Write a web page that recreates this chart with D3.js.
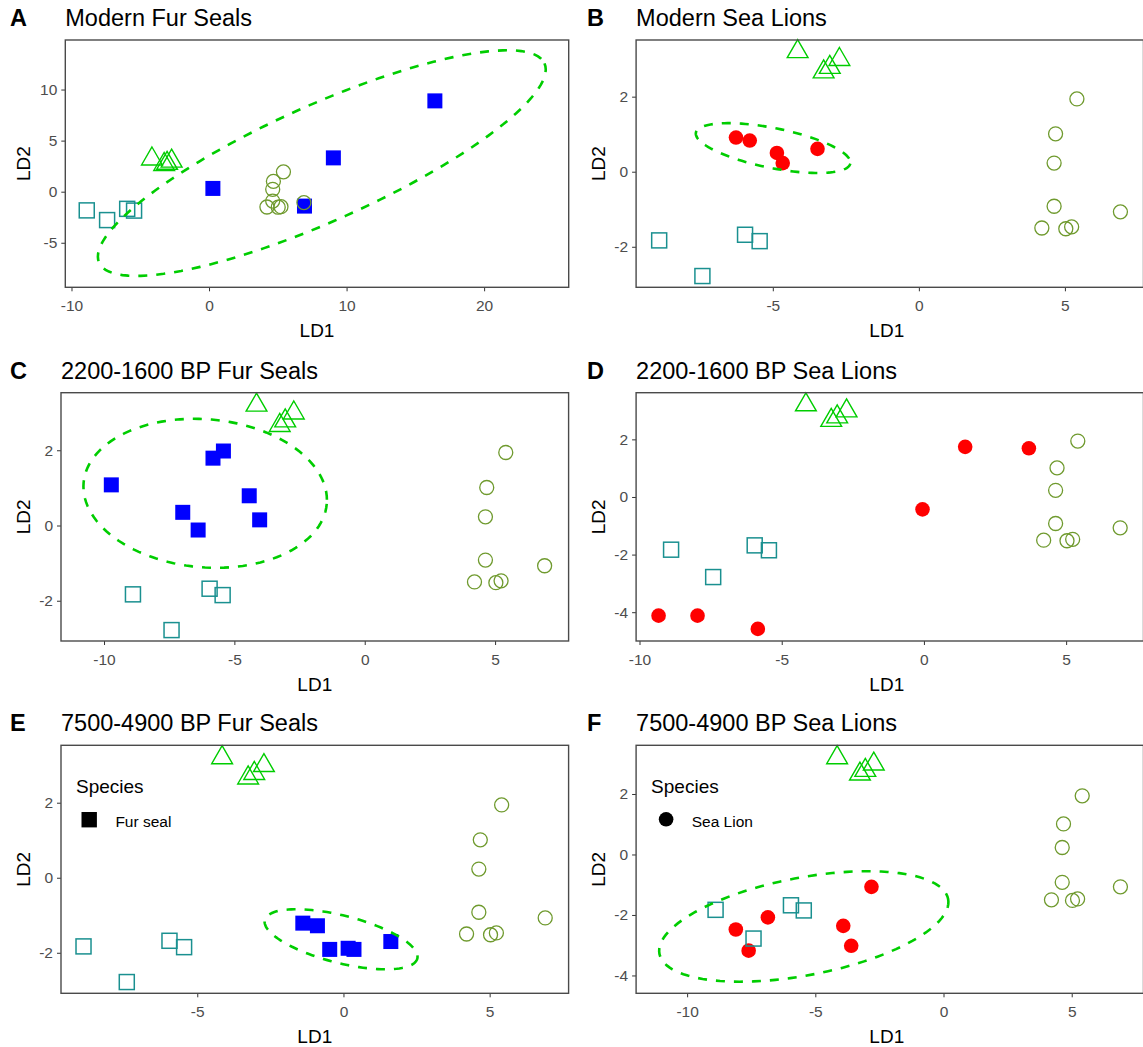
<!DOCTYPE html>
<html>
<head>
<meta charset="utf-8">
<script src="https://cdn.jsdelivr.net/npm/d3@7"></script>
<style>
  html, body { margin:0; padding:0; background:#fff; }
  svg text { font-family: "Liberation Sans", Arial, sans-serif; }
</style>
</head>
<body>
<svg id="fig" width="1143" height="1047"></svg>
<script>
// reference groups (same in every panel)
const refSqLD1 = [-8.89, -7.41, -5.95, -5.45];
const refSqLD2 = [-1.83, -2.78, -1.68, -1.85];
const refTriLD1 = [-4.15, -2.72, -3.05, -3.26];
const refTriLD2 = [3.20, 2.99, 2.78, 2.66];
const refCircLD1 = [5.41, 4.68, 4.63, 4.63, 4.21, 5.03, 5.23, 6.90];
const refCircLD2 = [1.94, 1.01, 0.23, -0.92, -1.50, -1.52, -1.47, -1.07];

// focal groups
const modernFurLD1 = [0.28, 6.94, 9.04, 16.42];
const modernFurLD2 = [0.32, -1.41, 3.31, 8.89];
const modernLionLD1 = [-6.26, -5.79, -4.86, -4.66, -3.47];
const modernLionLD2 = [0.91, 0.83, 0.50, 0.23, 0.61];
const midFurLD1 = [-9.72, -5.82, -5.42, -4.43, -4.03, -6.98, -6.39];
const midFurLD2 = [1.08, 1.79, 1.98, 0.79, 0.15, 0.35, -0.12];
const midLionLD1 = [-9.33, -7.96, -5.84, -0.05, 1.45, 3.69];
const midLionLD2 = [-4.12, -4.12, -4.58, -0.43, 1.74, 1.69];
const earlyFurLD1 = [-1.39, -0.89, -0.47, 0.16, 0.36, 1.62];
const earlyFurLD2 = [-1.21, -1.28, -1.91, -1.88, -1.91, -1.70];
const earlyLionLD1 = [-8.10, -7.60, -6.85, -3.91, -3.60, -2.81];
const earlyLionLD2 = [-2.48, -3.18, -2.08, -2.36, -3.02, -1.07];

// 95% ellipses: centre, first and second half-axis vectors (LD units)
const ellA = [8.20, 2.80, 16.19, 9.76, 1.725, -5.17];
const ellB = [-4.99, 0.63, 2.643, -0.412, -0.135, -0.521];
const ellC = [-6.12, 0.856, 4.663, -0.282, -0.2475, -1.960];
const ellE = [-0.082, -1.64, 2.608, -0.515, -0.199, -0.613];
const ellF = [-5.45, -2.38, 5.629, 0.908, 0.358, -1.585];

const tags = ['A','B','C','D','E','F'];
const titles = ['Modern Fur Seals','Modern Sea Lions','2200-1600 BP Fur Seals',
  '2200-1600 BP Sea Lions','7500-4900 BP Fur Seals','7500-4900 BP Sea Lions'];
const xDomains = [[-10.45,26.15],[-9.68,7.69],[-11.65,7.82],[-10.12,7.72],[-9.66,7.70],[-11.99,7.80]];
const yDomains = [[-9.36,14.85],[-3.08,3.51],[-3.07,3.53],[-5.0,3.62],[-3.08,3.53],[-4.59,3.61]];
const xTicks = [[-10,0,10,20],[-5,0,5],[-10,-5,0,5],[-10,-5,0,5],[-5,0,5],[-10,-5,0,5]];
const yTicks = [[-5,0,5,10],[-2,0,2],[-2,0,2],[-4,-2,0,2],[-2,0,2],[-4,-2,0,2]];
const focalLD1 = [modernFurLD1, modernLionLD1, midFurLD1, midLionLD1, earlyFurLD1, earlyLionLD1];
const focalLD2 = [modernFurLD2, modernLionLD2, midFurLD2, midLionLD2, earlyFurLD2, earlyLionLD2];
const ellipses = [ellA, ellB, ellC, null, ellE, ellF];
const legendLabels = [null, null, null, null, 'Fur seal', 'Sea Lion'];

const svg = d3.select('#fig');
const boxes = [
  {x0:65.3, x1:568.7, y0:40, y1:287.3},
  {x0:636.1, x1:1143.5, y0:40, y1:287.3},
  {x0:61, x1:568.6, y0:392.7, y1:641},
  {x0:636.1, x1:1143.5, y0:392.7, y1:641},
  {x0:61, x1:568.6, y0:745.3, y1:993.3},
  {x0:636.1, x1:1143.5, y0:745.3, y1:993.3}
];

const GREEN = '#00cd00', TEAL = '#1a9090', OLIVE = '#6f9a2e';

function zip(a,b){ return a.map((v,i)=>[v,b[i]]); }

function triPath(r){
  const h = r*Math.sqrt(3)/2;
  return `M0,${-r}L${h},${r/2}L${-h},${r/2}Z`;
}

boxes.forEach((b,i)=>{
  const fur = i%2===0;
  const left = i%2===0;
  const x = d3.scaleLinear().domain(xDomains[i]).range([b.x0,b.x1]);
  const y = d3.scaleLinear().domain(yDomains[i]).range([b.y1,b.y0]);
  const g = svg.append('g');

  // title + tag
  g.append('text').attr('x', left?10:587).attr('y', b.y0-14)
    .style('font-size','23.5px').style('font-weight','bold').text(tags[i]);
  g.append('text').attr('x', b.x0).attr('y', b.y0-14)
    .style('font-size','23.5px').text(titles[i]);

  // axes
  const xa = g.append('g').attr('transform',`translate(0,${b.y1})`)
    .call(d3.axisBottom(x).tickValues(xTicks[i]).tickSize(4).tickPadding(4).tickFormat(d3.format('d')));
  const ya = g.append('g').attr('transform',`translate(${b.x0},0)`)
    .call(d3.axisLeft(y).tickValues(yTicks[i]).tickSize(4).tickPadding(4).tickFormat(d3.format('d')));
  [xa,ya].forEach(a=>{
    a.select('.domain').remove();
    a.selectAll('line').attr('stroke','#333');
    a.selectAll('text').attr('fill','#4d4d4d').style('font-size','15.5px')
      .style('font-family','"Liberation Sans", Arial, sans-serif');
  });
  xa.selectAll('text').attr('dy','1em');
  ya.selectAll('text').text(d=>d<0 ? '-'+Math.abs(d) : d);
  xa.selectAll('text').text(d=>d<0 ? '-'+Math.abs(d) : d);

  g.append('text').attr('x',(b.x0+b.x1)/2 - (left?0:3)).attr('y', b.y1+49.5)
    .attr('text-anchor','middle').style('font-size','19px').text('LD1');
  g.append('text').attr('transform',`translate(${left?30:605},${(b.y0+b.y1)/2}) rotate(-90)`)
    .attr('text-anchor','middle').style('font-size','19px').text('LD2');

  const clipId = 'clip'+i;
  svg.append('clipPath').attr('id',clipId).append('rect')
    .attr('x',b.x0).attr('y',b.y0-12).attr('width',b.x1-b.x0).attr('height',b.y1-b.y0+12);
  const plot = g.append('g').attr('clip-path',`url(#${clipId})`);

  // focal group
  const pts = zip(focalLD1[i], focalLD2[i]);
  if(fur){
    plot.selectAll('rect.focal').data(pts).enter().append('rect')
      .attr('class','focal')
      .attr('x',d=>x(d[0])-7.5).attr('y',d=>y(d[1])-7.5)
      .attr('width',15).attr('height',15).attr('fill','#0000ff');
  }else{
    plot.selectAll('circle.focal').data(pts).enter().append('circle')
      .attr('class','focal')
      .attr('cx',d=>x(d[0])).attr('cy',d=>y(d[1])).attr('r',7.3).attr('fill','#ff0000');
  }

  // reference groups
  plot.selectAll('rect.ref').data(zip(refSqLD1,refSqLD2)).enter().append('rect')
    .attr('class','ref')
    .attr('x',d=>x(d[0])-7.5).attr('y',d=>y(d[1])-7.5)
    .attr('width',15).attr('height',15)
    .attr('fill','none').attr('stroke',TEAL).attr('stroke-width',1.5);
  plot.selectAll('path.tri').data(zip(refTriLD1,refTriLD2)).enter().append('path')
    .attr('class','tri')
    .attr('transform',d=>`translate(${x(d[0])},${y(d[1])})`)
    .attr('d',triPath(12))
    .attr('fill','none').attr('stroke',GREEN).attr('stroke-width',1.4);
  plot.selectAll('circle.ref').data(zip(refCircLD1,refCircLD2)).enter().append('circle')
    .attr('class','ref')
    .attr('cx',d=>x(d[0])).attr('cy',d=>y(d[1])).attr('r',7)
    .attr('fill','none').attr('stroke',OLIVE).attr('stroke-width',1.3);

  // ellipse
  const e = ellipses[i];
  if(e){
    const ts = d3.range(0, 2*Math.PI, Math.PI/60);
    const ep = ts.map(t=>[
      e[0] + e[2]*Math.cos(t) + e[4]*Math.sin(t),
      e[1] + e[3]*Math.cos(t) + e[5]*Math.sin(t)
    ]);
    plot.append('path')
      .attr('d', d3.line().x(d=>x(d[0])).y(d=>y(d[1])).curve(d3.curveLinearClosed)(ep))
      .attr('fill','none').attr('stroke',GREEN).attr('stroke-width',2.6)
      .attr('stroke-dasharray','9,9');
  }

  // panel border
  g.append('rect').attr('x',b.x0).attr('y',b.y0)
    .attr('width',b.x1-b.x0).attr('height',b.y1-b.y0)
    .attr('fill','none').attr('stroke','#4a4a4a').attr('stroke-width',1.4);

  // legend
  if(legendLabels[i]){
    const lg = g.append('g').attr('transform',`translate(${b.x0},${b.y0})`);
    lg.append('text').attr('x',15).attr('y',48).style('font-size','19px').text('Species');
    if(fur){
      lg.append('rect').attr('x',28.2-7.7).attr('y',74.4-7.7).attr('width',15.4).attr('height',15.4).attr('fill','#000');
    }else{
      lg.append('circle').attr('cx',30).attr('cy',74).attr('r',7.3).attr('fill','#000');
    }
    lg.append('text').attr('x',fur?54.4:55.6).attr('y',81.4).style('font-size','15.5px').text(legendLabels[i]);
  }
});
</script>
</body>
</html>
